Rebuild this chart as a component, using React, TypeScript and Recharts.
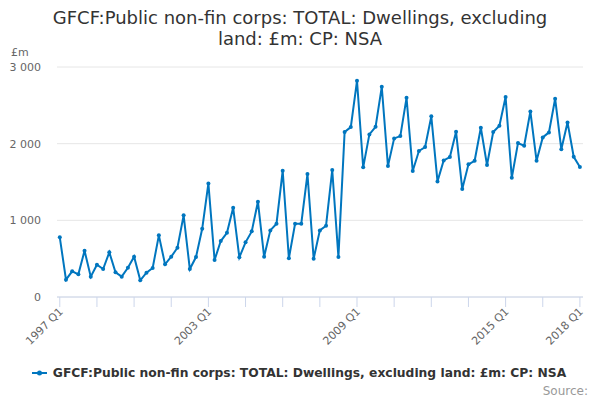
import { LineChart, Line, XAxis, YAxis, CartesianGrid, Legend } from 'recharts';

const SERIES_NAME = 'GFCF:Public non-fin corps: TOTAL: Dwellings, excluding land: £m: CP: NSA';
const TITLE_LINES = ['GFCF:Public non-fin corps: TOTAL: Dwellings, excluding', 'land: £m: CP: NSA'];
const UNIT = '£m';
const SOURCE = 'Source:';

const START_YEAR = 1997;
const QUARTER_COUNT = 85; // 1997 Q1 .. 2018 Q1

// quarterly values, £m
const VALUES = [
  778, 226, 335, 296,
  604, 265, 421, 365,
  583, 322, 265, 382,
  525, 217, 317, 378,
  804, 426, 525, 643,
  1065, 365, 521, 890,
  1482, 482, 730, 838,
  1165, 517, 713, 856,
  1243, 525, 869, 956,
  1647, 504, 956, 956,
  1604, 500, 869, 930,
  1656, 521, 2151, 2216,
  2820, 1691, 2121, 2220,
  2742, 1708, 2069, 2099,
  2598, 1643, 1904, 1956,
  2356, 1508, 1782, 1825,
  2155, 1408, 1730, 1777,
  2208, 1721, 2151, 2234,
  2608, 1556, 2008, 1973,
  2421, 1777, 2082, 2147,
  2586, 1926, 2277, 1829,
  1695,
];

const Y_TICKS = [0, 1000, 2000, 3000];
const X_TICK_STEP = 6;
const X_LABEL_STEP = 24;

const BLUE = '#0076bf';
const FONT = '"DejaVu Sans", sans-serif';

const quarterLabel = (i: number) => `${START_YEAR + Math.floor(i / 4)} Q${(i % 4) + 1}`;

const data = VALUES.map((v, i) => ({ idx: i, label: quarterLabel(i), value: v }));
const xTicks = Array.from({ length: Math.floor((QUARTER_COUNT - 1) / X_TICK_STEP) + 1 }, (_, k) => k * X_TICK_STEP);

const fmtThousands = (v: number) => String(v).replace(/\B(?=(\d{3})+(?!\d))/g, ' ');

// only every 4th tick mark gets a label, plus the last quarter
function XTick({ x, y, payload }: any) {
  const i = payload.value as number;
  if (i % X_LABEL_STEP !== 0 && i !== QUARTER_COUNT - 1) return null;
  return (
    <text
      x={x}
      y={y}
      dx={0.5}
      dy={5}
      transform={`rotate(-45, ${x}, ${y})`}
      textAnchor="end"
      fill="#666666"
      fontSize={11}
      fontFamily={FONT}
    >
      {quarterLabel(i)}
    </text>
  );
}

function LegendContent() {
  return (
    <div style={{ display: 'flex', alignItems: 'center', justifyContent: 'center', fontFamily: FONT, paddingLeft: 8 }}>
      <svg width={15} height={10} style={{ marginRight: 6 }}>
        <line x1={0} y1={5} x2={15} y2={5} stroke={BLUE} strokeWidth={2} />
        <circle cx={7.5} cy={5} r={2.5} fill={BLUE} />
      </svg>
      <span style={{ fontSize: 12.3, fontWeight: 'bold', color: '#333333' }}>{SERIES_NAME}</span>
    </div>
  );
}

export default function App() {
  return (
    <div style={{ position: 'absolute', left: 0, top: 0, width: 600, height: 400, background: '#fff', fontFamily: FONT }}>
      <div
        style={{
          position: 'absolute',
          top: 7,
          left: 0,
          width: 600,
          textAlign: 'center',
          fontSize: 18,
          lineHeight: '21px',
          color: '#333333',
        }}
      >
        {TITLE_LINES.map((t) => (
          <div key={t}>{t}</div>
        ))}
      </div>
      <div style={{ position: 'absolute', left: 11, top: 46, fontSize: 11, color: '#666666' }}>{UNIT}</div>
      <div style={{ position: 'absolute', right: 12, top: 384, fontSize: 12, color: '#999999' }}>{SOURCE}</div>
      <LineChart width={600} height={400} data={data} margin={{ top: 67, right: 17, bottom: 6, left: 7 }}>
        <CartesianGrid vertical={false} stroke="#e6e6e6" />
        <XAxis
          dataKey="idx"
          type="number"
          domain={[-0.45, 84.5]}
          ticks={xTicks}
          interval={0}
          height={83}
          tick={<XTick />}
          stroke="#ccd6eb"
          tickSize={10}
          allowDataOverflow
        />
        <YAxis
          domain={[0, 3000]}
          ticks={Y_TICKS}
          width={50}
          axisLine={false}
          tickLine={false}
          tickSize={0}
          tickMargin={16}
          tickFormatter={fmtThousands}
          tick={{ fontSize: 11, fill: '#666666', fontFamily: FONT }}
        />
        <Legend verticalAlign="bottom" content={<LegendContent />} wrapperStyle={{ bottom: 20 }} />
        <Line
          type="linear"
          dataKey="value"
          stroke={BLUE}
          strokeWidth={2}
          dot={{ r: 2, fill: BLUE, stroke: BLUE, strokeWidth: 0 }}
          isAnimationActive={false}
        />
      </LineChart>
    </div>
  );
}
